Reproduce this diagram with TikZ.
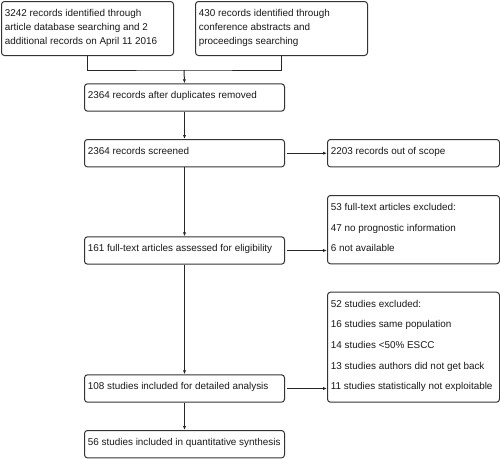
\documentclass[tikz,border=0pt]{standalone}
\usepackage{fontspec}
\setmainfont{Liberation Sans}
\usetikzlibrary{arrows.meta}
\newcommand\bxt[4]{\parbox[c][#2pt][t]{#1pt}{\fontsize{9.9}{#3}\selectfont\raggedright\leftskip=3.4pt\parindent=0pt\rule{0pt}{15pt}#4}}
\tikzset{
  box/.style={draw=black!80, line width=1pt, rounded corners=3pt, inner sep=0pt, anchor=north west, text=black!90},
  conn/.style={draw=black!85, line width=1pt},
  arr/.style={conn, -{Latex[length=4pt,width=3.2pt]}},
}
\begin{document}
\begin{tikzpicture}[x=1pt,y=-1pt]
\useasboundingbox[fill=white] (0,0) rectangle (500,458);
\node[box] (A) at (1,1) {\bxt{172}{54}{13.8}{3242 records identified through\\article database searching and 2\\additional records on April 11 2016}};
\node[box] (B) at (195,1) {\bxt{172}{54}{13.8}{430 records identified through\\conference abstracts and\\proceedings searching}};
\node[box] (C) at (84,83.3) {\bxt{200}{27.4}{13.8}{2364 records after duplicates removed}};
\node[box] (D) at (84,139) {\bxt{200}{27.4}{13.8}{2364 records screened}};
\node[box] (E) at (327,139) {\bxt{172}{27.4}{13.8}{2203 records out of scope}};
\node[box] (F) at (327,195) {\bxt{172}{68.3}{20.6}{53 full-text articles excluded:\\47 no prognostic information\\6 not available}};
\node[box] (G) at (84,236.3) {\bxt{200}{27.4}{13.8}{161 full-text articles assessed for eligibility}};
\node[box] (H) at (327,291.7) {\bxt{172}{110}{20.6}{52 studies excluded:\\16 studies same population\\14 studies <50\% ESCC\\13 studies authors did not get back\\11 studies statistically not exploitable}};
\node[box] (I) at (84,374.3) {\bxt{200}{27.4}{13.8}{108 studies included for detailed analysis}};
\node[box] (J) at (84,430) {\bxt{200}{27.4}{13.8}{56 studies included in quantitative synthesis}};
\coordinate (m) at (184,70);
\draw[conn] (A.south) |- (m) -| (B.south);
\draw[arr] (m) -- (C.north);
\draw[arr] (C.south) -- (D.north);
\draw[arr, shorten <=2pt] (D.east) -- (E.west);
\draw[arr] (D.south) -- (G.north);
\draw[arr, shorten <=2pt] (G.east) -- (G.east -| F.west);
\draw[arr] (G.south) -- (I.north);
\draw[arr, shorten <=2pt] (I.east) -- (I.east -| H.west);
\draw[arr] (I.south) -- (J.north);
\end{tikzpicture}
\end{document}
